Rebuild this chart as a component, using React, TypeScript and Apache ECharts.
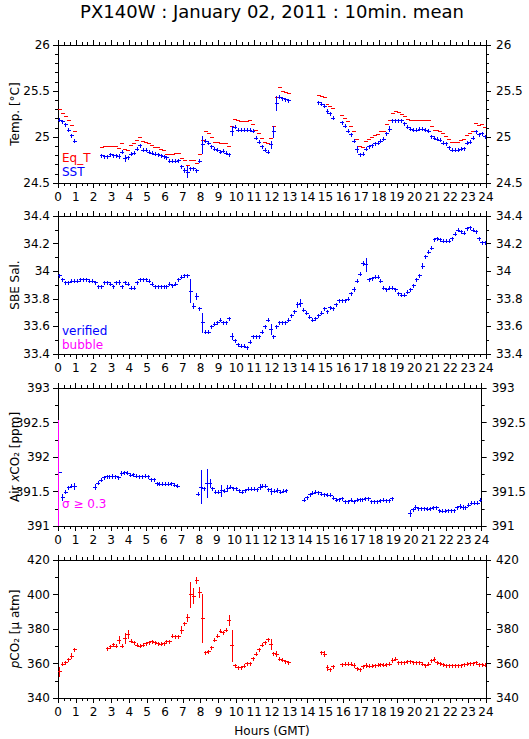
import React, { useEffect, useRef } from "react";
import * as echarts from "echarts";

const N = null;
const FONT = "DejaVu Sans";

// 144 ten-minute bins (index i covers hours i/6 .. (i+1)/6); one row per hour
const eqT: (number | null)[] = [
  25.30, 25.26, 25.23, 25.18, 25.13, 25.06,
  N, N, N, N, N, N,
  N, N, 24.89, 24.90, 24.90, 24.90,
  24.90, 24.90, 24.88, 24.94, 24.87, 24.86,
  24.91, 24.94, 24.97, 25.00, 24.96, 24.95,
  24.93, 24.91, 24.89, 24.89, 24.87, 24.86,
  24.82, 24.82, 24.82, 24.83, 24.83, 24.77,
  24.75, 24.70, 24.75, 24.75, 24.72, 24.82,
  24.97, 25.06, 25.04, 25.00, 24.95, 24.95,
  24.94, 24.94, 24.93, 24.90, 25.12, 25.20,
  25.18, 25.17, 25.17, 25.17, 25.19, 25.14,
  25.08, 25.04, 24.99, 24.95, 24.94, 24.99,
  25.12, 25.44, 25.54, 25.50, 25.49, 25.48,
  N, N, N, N, N, N,
  N, N, N, 25.46, 25.45, 25.44,
  25.36, 25.34, 25.31, N, N, 25.24,
  25.21, 25.17, 25.12, 25.07, 24.98, 24.90,
  24.89, 24.96, 24.98, 25.00, 25.02, 25.03,
  25.07, 25.07, 25.14, 25.19, 25.26, 25.28,
  25.27, 25.25, 25.23, 25.20, 25.19, 25.19,
  25.19, 25.18, 25.18, 25.18, 25.18, 25.12,
  25.08, 25.08, 25.07, 25.04, 25.01, 24.98,
  24.95, 24.95, 24.95, 24.97, 24.98, 25.02,
  25.04, 25.07, 25.15, 25.13, 25.14, 25.11,
];

const sst: (number | null)[] = [
  25.19, 25.17, 25.14, 25.08, 25.02, 24.96,
  N, N, N, N, N, N,
  N, N, 24.80, 24.79, 24.79, 24.81,
  24.80, 24.80, 24.79, 24.84, 24.77, 24.78,
  24.82, 24.83, 24.87, 24.91, 24.86, 24.86,
  24.84, 24.83, 24.82, 24.81, 24.80, 24.79,
  24.78, 24.74, 24.74, 24.74, 24.75, 24.68,
  24.64, 24.62, 24.66, 24.66, 24.64, 24.74,
  24.92, 24.96, 24.94, 24.90, 24.87, 24.86,
  24.84, 24.85, 24.83, 24.81, 25.07, 25.11,
  25.08, 25.08, 25.08, 25.08, 25.08, 25.07,
  24.99, 24.95, 24.90, 24.86, 24.84, 24.92,
  25.06, 25.37, 25.44, 25.42, 25.41, 25.40,
  N, N, N, N, N, N,
  N, N, N, 25.38, 25.36, 25.34,
  25.28, 25.26, 25.21, N, N, 25.16,
  25.12, 25.07, 25.03, 24.96, 24.87, 24.81,
  24.82, 24.87, 24.90, 24.91, 24.93, 24.94,
  24.96, 24.98, 25.04, 25.09, 25.18, 25.18,
  25.18, 25.18, 25.15, 25.11, 25.09, 25.08,
  25.08, 25.09, 25.09, 25.08, 25.07, 25.01,
  24.99, 24.98, 24.97, 24.94, 24.93, 24.89,
  24.86, 24.86, 24.86, 24.87, 24.88, 24.94,
  24.95, 24.99, 25.06, 25.03, 25.04, 25.01,
];

const salinity: (number | null)[] = [
  33.97, 33.94, 33.92, 33.92, 33.93, 33.93,
  33.93, 33.94, 33.94, 33.94, 33.93, 33.93,
  33.92, 33.89, 33.89, 33.92, 33.92, 33.91,
  33.89, 33.92, 33.92, 33.89, 33.92, 33.91,
  33.88, 33.88, 33.92, 33.94, 33.94, 33.94,
  33.93, 33.91, 33.89, 33.89, 33.89, 33.89,
  33.89, 33.91, 33.90, 33.91, 33.94, 33.96,
  33.97, 33.97, 33.86, 33.75, 33.82, 33.73,
  33.63, 33.56, 33.56, 33.60, 33.62, 33.63,
  33.65, 33.63, 33.63, 33.66, 33.53, 33.50,
  33.47, 33.46, 33.46, 33.45, 33.49, 33.53,
  33.53, 33.53, 33.56, 33.60, 33.65, 33.58,
  33.53, 33.60, 33.63, 33.63, 33.63, 33.65,
  33.68, 33.71, 33.76, 33.77, 33.72, 33.70,
  33.67, 33.65, 33.66, 33.68, 33.70, 33.73,
  33.71, 33.74, 33.73, 33.76, 33.79, 33.79,
  33.79, 33.80, 33.84, 33.87, 33.93, 33.98,
  34.06, 34.05, 33.94, 33.95, 33.96, 33.96,
  33.93, 33.88, 33.87, 33.88, 33.88, 33.87,
  33.84, 33.83, 33.83, 33.85, 33.87, 33.90,
  33.94, 33.97, 34.04, 34.11, 34.14, 34.17,
  34.23, 34.24, 34.23, 34.22, 34.22, 34.22,
  34.24, 34.27, 34.30, 34.29, 34.28, 34.31,
  34.32, 34.30, 34.29, 34.24, 34.21, 34.21,
];

const airXco2: (number | null)[] = [
  391.78, 391.42, 391.50, 391.56, 391.58, 391.58,
  N, N, N, N, N, N,
  391.57, 391.63, 391.67, 391.71, 391.72, 391.72,
  391.73, 391.72, 391.71, 391.77, 391.78, 391.77,
  391.74, 391.75, 391.73, 391.72, 391.72, 391.73,
  391.72, 391.68, 391.68, 391.62, 391.61, 391.61,
  391.61, 391.61, 391.62, 391.60, 391.58, N,
  N, N, N, N, N, 391.47,
  391.57, 391.55, 391.62, 391.62, 391.55, 391.50,
  391.50, 391.52, 391.51, 391.55, 391.57, 391.55,
  391.55, 391.52, 391.50, 391.52, 391.54, 391.54,
  391.54, 391.53, 391.57, 391.58, 391.58, 391.53,
  391.51, 391.51, 391.52, 391.50, 391.51, 391.52,
  N, N, N, N, N, 391.38,
  391.42, 391.46, 391.48, 391.50, 391.49, 391.47,
  391.46, 391.45, 391.45, 391.41, 391.38, 391.39,
  391.40, 391.36, 391.36, 391.38, 391.36, 391.38,
  391.39, 391.39, 391.40, 391.40, 391.36, 391.36,
  391.36, 391.37, 391.38, 391.37, 391.37, 391.40,
  N, N, N, N, N, 391.19,
  391.24, 391.27, 391.26, 391.26, 391.26, 391.25,
  391.26, 391.27, 391.27, 391.23, 391.22, 391.22,
  391.23, 391.23, 391.23, 391.27, 391.29, 391.28,
  391.27, 391.31, 391.34, 391.34, 391.34, 391.38,
];

const pco2: (number | null)[] = [
  355.4, 359.9, 360.6, 362.6, 364.5, 368.3,
  N, N, N, N, N, N,
  N, N, N, N, 368.9, 369.9,
  371.2, 370.3, 373.7, 370.3, 374.7, 377.0,
  373.2, 372.2, 370.9, 370.3, 370.9, 371.8,
  372.2, 372.8, 372.4, 371.8, 371.4, 371.8,
  372.8, 372.8, 376.0, 375.7, 375.7, 379.5,
  383.4, 386.7, 400.1, 399.2, 408.4, 401.3,
  386.3, 366.6, 367.0, 369.5, 373.7, 376.2,
  379.1, 378.2, 379.5, 385.3, 370.5, 358.9,
  357.9, 357.9, 358.7, 360.2, 360.2, 363.1,
  365.6, 368.3, 370.8, 372.2, 374.1, 371.4,
  366.0, 365.6, 362.7, 362.2, 361.2, 360.8,
  N, N, N, N, N, N,
  N, N, N, N, 366.4, 365.6,
  357.7, 356.8, 358.3, N, N, 359.7,
  359.9, 359.9, 360.0, 359.2, 357.3, 356.8,
  358.3, 359.3, 358.7, 358.7, 358.9, 359.3,
  359.7, 359.3, 359.7, 359.9, 361.8, 362.7,
  360.6, 360.6, 360.6, 361.2, 361.2, 360.6,
  360.6, 360.8, 359.9, 358.9, 359.9, 361.8,
  362.6, 360.8, 360.2, 359.7, 358.9, 358.9,
  358.9, 358.9, 358.9, 358.9, 359.7, 359.9,
  360.2, 360.2, 360.6, 359.7, 359.7, 359.3,
];

// standard deviations [bin index, sd] where the bar is visibly longer than the marker
const sstSd: [number, number][] = [
  [20, 0.02], [22, 0.03], [42, 0.02], [43, 0.06], [48, 0.09], [58, 0.05],
  [71, 0.04], [72, 0.06], [73, 0.08], [90, 0.02], [100, 0.03], [111, 0.03],
];
const salSd: [number, number][] = [
  [20, 0.015], [44, 0.08], [45, 0.02], [46, 0.02], [48, 0.07], [58, 0.02],
  [71, 0.035], [80, 0.02], [81, 0.025], [99, 0.015], [102, 0.015], [103, 0.045], [122, 0.02],
];
const xco2Sd: [number, number][] = [
  [1, 0.05], [5, 0.05], [12, 0.04], [18, 0.03], [21, 0.03], [48, 0.24], [50, 0.2],
  [51, 0.06], [55, 0.08], [57, 0.04], [68, 0.04], [72, 0.04], [74, 0.03],
  [119, 0.04], [121, 0.03], [136, 0.03], [137, 0.03],
];
const xco2Flagged: [number, number][] = [[0, 0.76]]; // sigma >= 0.3
const pco2Sd: [number, number][] = [
  [0, 2.4], [4, 1.5], [20, 2], [22, 2.9], [23, 2.5], [41, 2], [43, 2], [44, 7.2],
  [45, 4.3], [46, 1.5], [47, 2.9], [48, 14], [57, 2.9], [58, 8.9], [71, 3], [73, 1.5],
  [89, 1.5], [90, 1.6], [99, 1.2], [103, 1.2], [112, 1.2], [126, 1],
];

const hourTicks = [0, 24, 1];
const panels = [
  { min: 24.5, max: 26, interval: 0.5, minorSplit: 5 },
  { min: 33.4, max: 34.4, interval: 0.2, minorSplit: 2 },
  { min: 391, max: 393, interval: 0.5, minorSplit: 2 },
  { min: 340, max: 420, interval: 20, minorSplit: 2 },
];

const BLUE = "#0000ff";
const RED = "#ff0000";
const MAGENTA = "#ff00ff";

function binData(vals: (number | null)[], sds: [number, number][], skip: number[] = []) {
  const sdMap = new Map(sds);
  const out: number[][] = [];
  vals.forEach((v, i) => {
    if (v == null) return;
    const sd = sdMap.get(i) || 0;
    out.push([i / 6, (i + 1) / 6, v, v - sd, v + sd, skip.includes(i) ? 1 : 0]);
  });
  return out;
}

function flaggedData(vals: (number | null)[], flags: [number, number][]) {
  return flags.map(([i, sd]) => [i / 6, (i + 1) / 6, vals[i] as number, (vals[i] as number) - sd, (vals[i] as number) + sd, 0]);
}

const px = (v: number) => Math.round(v) + 0.5;

function crossRenderer(color: string, mode: "cross" | "dash" | "vert") {
  return (params: any, api: any) => {
    const t0 = api.value(0), t1 = api.value(1), v = api.value(2), lo = api.value(3), hi = api.value(4);
    const noVert = api.value(5) === 1;
    const p0 = api.coord([t0, v]);
    const p1 = api.coord([t1, v]);
    const y = px(p0[1]);
    const children: any[] = [];
    if (mode !== "vert") {
      children.push({
        type: "line",
        shape: { x1: Math.round(p0[0]), y1: y, x2: Math.round(p1[0]) + 1, y2: y },
        style: { stroke: color, lineWidth: 1 },
      });
    }
    if ((mode === "cross" && !noVert) || mode === "vert") {
      const xm = mode === "vert" ? px(p0[0]) : px((p0[0] + p1[0]) / 2);
      const yLo = Math.max(api.coord([t0, lo])[1], p0[1] + 1.5);
      const yHi = Math.min(api.coord([t0, hi])[1], p0[1] - 1.5);
      children.push({
        type: "line",
        shape: { x1: xm, y1: Math.round(yHi), x2: xm, y2: Math.round(yLo) + 1 },
        style: { stroke: color, lineWidth: 1 },
      });
    }
    return { type: "group", children };
  };
}

const GRID_TOPS = [45, 216, 388, 560];
const GRID_H = 138;
const GRID_LEFT = 58;
const GRID_RIGHT = 43;

export default function App() {
  const ref = useRef<HTMLDivElement>(null);
  useEffect(() => {
    if (!ref.current) return;
    const chart = echarts.init(ref.current, undefined, { renderer: "svg" });

    const grids = GRID_TOPS.map((top) => ({ left: GRID_LEFT, right: GRID_RIGHT, top, height: GRID_H, containLabel: false }));
    const black = { color: "#000", width: 1 };
    const xAxis: any[] = [];
    const yAxis: any[] = [];
    panels.forEach((p, k) => {
      ["bottom", "top"].forEach((pos) => {
        xAxis.push({
          gridIndex: k, type: "value", position: pos,
          min: hourTicks[0], max: hourTicks[1], interval: hourTicks[2],
          axisLine: { show: true, onZero: false, lineStyle: black },
          axisTick: { show: true, inside: false, length: 5, lineStyle: black },
          minorTick: { show: true, splitNumber: 3, length: 3, lineStyle: black },
          splitLine: { show: false },
          axisLabel: { show: pos === "bottom", color: "#000", fontSize: 12, fontFamily: FONT, margin: 8 },
        });
      });
      ["left", "right"].forEach((pos) => {
        yAxis.push({
          gridIndex: k, type: "value", position: pos,
          min: p.min, max: p.max, interval: p.interval,
          axisLine: { show: true, onZero: false, lineStyle: black },
          axisTick: { show: true, inside: false, length: 5, lineStyle: black },
          minorTick: { show: true, splitNumber: p.minorSplit, length: 3, lineStyle: black },
          splitLine: { show: false },
          axisLabel: { show: true, color: "#000", fontSize: 12, fontFamily: FONT, margin: pos === "left" ? 8 : 10 },
        });
      });
    });

    const mk = (k: number, data: number[][], color: string, mode: "cross" | "dash" | "vert", z = 2) => ({
      type: "custom",
      xAxisIndex: 2 * k,
      yAxisIndex: 2 * k,
      clip: true,
      z,
      renderItem: crossRenderer(color, mode),
      encode: { x: [0, 1], y: [2, 3, 4] },
      data,
    });

    const series = [
      mk(0, binData(eqT, []), RED, "dash"),
      mk(0, binData(sst, sstSd), BLUE, "cross", 3),
      mk(1, binData(salinity, salSd), BLUE, "cross"),
      mk(2, binData(airXco2, xco2Sd, xco2Flagged.map((f) => f[0])), BLUE, "cross"),
      mk(2, flaggedData(airXco2, xco2Flagged), MAGENTA, "vert", 3),
      mk(3, binData(pco2, pco2Sd), RED, "cross"),
    ];

    const txt = (x: number, y: number, text: string, opts: any = {}) => ({
      type: "text", x, y, silent: true,
      rotation: opts.rotation || 0,
      style: {
        text, fill: opts.fill || "#000", fontFamily: FONT, fontSize: opts.fontSize || 12,
        align: opts.align || "left", verticalAlign: opts.verticalAlign || "middle",
        rich: opts.rich,
      },
    });
    const mid = (k: number) => GRID_TOPS[k] + GRID_H / 2;
    const graphic = [
      txt(272, 11, "PX140W : January 02, 2011 : 10min. mean", { fontSize: 18, align: "center" }),
      txt(15, mid(0), "Temp. [°C]", { rotation: Math.PI / 2, align: "center" }),
      txt(15, mid(1), "SBE Sal.", { rotation: Math.PI / 2, align: "center" }),
      txt(15, mid(2), "Air {i|x}CO₂ [ppm]", { rotation: Math.PI / 2, align: "center", rich: { i: { fontStyle: "italic", fontFamily: FONT, fontSize: 12 } } }),
      txt(15, mid(3), "{i|p}CO₂ [µ atm]", { rotation: Math.PI / 2, align: "center", rich: { i: { fontStyle: "italic", fontFamily: FONT, fontSize: 12 } } }),
      txt(62, 158, "Eq_T", { fill: RED }),
      txt(62, 172, "SST", { fill: BLUE }),
      txt(62, 331, "verified", { fill: BLUE }),
      txt(62, 345, "bubble", { fill: MAGENTA }),
      txt(62, 504, "σ ≥ 0.3", { fill: MAGENTA }),
      txt(272, 731, "Hours (GMT)", { align: "center" }),
    ];

    chart.setOption({
      animation: false,
      backgroundColor: "#fff",
      textStyle: { fontFamily: FONT },
      grid: grids,
      xAxis,
      yAxis,
      series,
      graphic,
    });
    return () => chart.dispose();
  }, []);
  return <div ref={ref} style={{ position: "absolute", left: 0, top: 0, width: 529, height: 739 }} />;
}
